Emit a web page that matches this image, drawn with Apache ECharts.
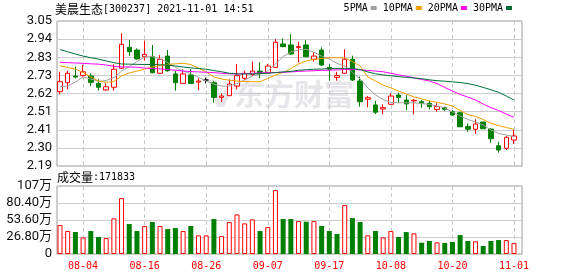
<!DOCTYPE html>
<html>
<head>
<meta charset="utf-8">
<script src="https://cdn.jsdelivr.net/npm/echarts@6/dist/echarts.min.js"></script>
<style>
html, body { margin: 0; padding: 0; background: #fff; }
#main { width: 578px; height: 276px; }
</style>
</head>
<body>
<div id="main"></div>
<script>
// trading days shown
var dates = ['07-30',
  '08-02', '08-03', '08-04', '08-05', '08-06', '08-09', '08-10', '08-11', '08-12', '08-13',
  '08-16', '08-17', '08-18', '08-19', '08-20', '08-23', '08-24', '08-25', '08-26', '08-27',
  '08-30', '08-31', '09-01', '09-02', '09-03', '09-06', '09-07', '09-08', '09-09', '09-10',
  '09-13', '09-14', '09-15', '09-16', '09-17', '09-22', '09-23', '09-24', '09-27', '09-28',
  '09-29', '09-30', '10-08', '10-11', '10-12', '10-13', '10-14', '10-15', '10-18', '10-19',
  '10-20', '10-21', '10-22', '10-25', '10-26', '10-27', '10-28', '10-29', '11-01'];

var opens  = [2.631, 2.684, 2.724, 2.726, 2.724, 2.680, 2.641, 2.657, 2.770, 2.894,
              2.878, 2.838, 2.838, 2.740, 2.842, 2.736, 2.680, 2.730, 2.688, 2.700,
              2.684, 2.597, 2.607, 2.664, 2.710, 2.734, 2.753, 2.743, 2.775, 2.914,
              2.908, 2.892, 2.908, 2.823, 2.878, 2.775, 2.716, 2.740, 2.823, 2.694,
              2.586, 2.552, 2.528, 2.556, 2.611, 2.581, 2.576, 2.571, 2.562, 2.526,
              2.536, 2.512, 2.506, 2.425, 2.408, 2.451, 2.409, 2.310, 2.295, 2.344];
var closes = [2.690, 2.740, 2.718, 2.749, 2.686, 2.657, 2.660, 2.764, 2.912, 2.868,
              2.825, 2.852, 2.743, 2.823, 2.755, 2.684, 2.736, 2.680, 2.694, 2.700,
              2.597, 2.605, 2.676, 2.726, 2.740, 2.753, 2.740, 2.783, 2.924, 2.898,
              2.854, 2.898, 2.838, 2.842, 2.789, 2.764, 2.726, 2.823, 2.700, 2.571,
              2.595, 2.509, 2.536, 2.605, 2.597, 2.558, 2.580, 2.562, 2.542, 2.543,
              2.526, 2.492, 2.423, 2.408, 2.439, 2.411, 2.352, 2.285, 2.360, 2.368];
var lows   = [2.615, 2.645, 2.710, 2.720, 2.664, 2.637, 2.637, 2.637, 2.765, 2.844,
              2.819, 2.815, 2.740, 2.736, 2.749, 2.637, 2.676, 2.676, 2.641, 2.680,
              2.565, 2.570, 2.605, 2.645, 2.700, 2.724, 2.710, 2.740, 2.770, 2.894,
              2.848, 2.803, 2.835, 2.809, 2.783, 2.696, 2.696, 2.736, 2.694, 2.542,
              2.538, 2.498, 2.497, 2.552, 2.565, 2.522, 2.497, 2.536, 2.526, 2.512,
              2.516, 2.487, 2.420, 2.393, 2.380, 2.411, 2.328, 2.269, 2.285, 2.321];
var highs  = [2.749, 2.755, 2.779, 2.789, 2.740, 2.704, 2.680, 2.793, 2.977, 2.937,
              2.888, 2.933, 2.908, 2.848, 2.878, 2.753, 2.764, 2.764, 2.710, 2.714,
              2.694, 2.621, 2.704, 2.795, 2.755, 2.809, 2.805, 2.795, 2.943, 2.947,
              2.971, 2.927, 2.937, 2.864, 2.894, 2.793, 2.749, 2.882, 2.844, 2.720,
              2.605, 2.577, 2.556, 2.621, 2.625, 2.611, 2.586, 2.581, 2.577, 2.562,
              2.542, 2.522, 2.512, 2.443, 2.467, 2.451, 2.414, 2.334, 2.368, 2.404];

// moving averages
var ma5  = [2.660, 2.664, 2.688, 2.718, 2.706, 2.692, 2.697, 2.715, 2.753, 2.780,
            2.809, 2.836, 2.839, 2.825, 2.804, 2.774, 2.753, 2.738, 2.715, 2.694,
            2.676, 2.664, 2.664, 2.679, 2.700, 2.724, 2.736, 2.753, 2.795, 2.839,
            2.866, 2.878, 2.882, 2.865, 2.842, 2.825, 2.798, 2.783, 2.745, 2.706,
            2.653, 2.611, 2.584, 2.567, 2.565, 2.565, 2.565, 2.561, 2.555, 2.546,
            2.534, 2.510, 2.487, 2.466, 2.451, 2.433, 2.404, 2.383, 2.374, 2.364];
var ma10 = [2.785, 2.774, 2.765, 2.745, 2.718, 2.694, 2.686, 2.691, 2.724, 2.742,
            2.753, 2.765, 2.777, 2.786, 2.793, 2.796, 2.799, 2.792, 2.771, 2.748,
            2.718, 2.706, 2.699, 2.694, 2.691, 2.690, 2.690, 2.709, 2.730, 2.745,
            2.768, 2.795, 2.813, 2.823, 2.827, 2.832, 2.832, 2.831, 2.810, 2.783,
            2.718, 2.694, 2.670, 2.653, 2.634, 2.617, 2.600, 2.588, 2.576, 2.567,
            2.558, 2.546, 2.519, 2.495, 2.484, 2.466, 2.443, 2.430, 2.418, 2.408];
var ma20 = [2.805, 2.803, 2.801, 2.799, 2.796, 2.794, 2.789, 2.781, 2.778, 2.777,
            2.776, 2.771, 2.768, 2.766, 2.762, 2.758, 2.753, 2.750, 2.748, 2.746,
            2.744, 2.740, 2.737, 2.736, 2.738, 2.740, 2.742, 2.743, 2.744, 2.746,
            2.748, 2.751, 2.753, 2.755, 2.757, 2.758, 2.760, 2.762, 2.763, 2.760,
            2.757, 2.753, 2.749, 2.740, 2.731, 2.722, 2.713, 2.703, 2.694, 2.679,
            2.656, 2.635, 2.614, 2.599, 2.581, 2.558, 2.536, 2.519, 2.498, 2.479];
var ma30 = [2.881, 2.867, 2.854, 2.842, 2.832, 2.824, 2.813, 2.803, 2.795, 2.794,
            2.793, 2.792, 2.792, 2.790, 2.789, 2.783, 2.777, 2.772, 2.768, 2.764,
            2.756, 2.749, 2.740, 2.736, 2.736, 2.736, 2.738, 2.740, 2.744, 2.748,
            2.751, 2.758, 2.761, 2.764, 2.765, 2.768, 2.769, 2.769, 2.768, 2.762,
            2.748, 2.737, 2.730, 2.725, 2.720, 2.716, 2.712, 2.708, 2.701, 2.696,
            2.693, 2.689, 2.685, 2.679, 2.669, 2.656, 2.642, 2.627, 2.605, 2.581];

// volume, in 万
var volumes = [45.6, 36.2, 34.6, 26.2, 36.2, 26.8, 25.2, 56.2, 88.1, 47.2,
               36.2, 44.1, 50.4, 44.1, 39.3, 40.9, 36.2, 44.1, 29.4, 29.4,
               55.1, 28.3, 50.4, 62.4, 48.3, 54.6, 36.2, 42.5, 100.7, 55.1,
               55.1, 51.9, 50.9, 51.9, 44.1, 36.2, 31.5, 77.1, 56.6, 50.4,
               29.4, 36.2, 26.2, 36.2, 26.8, 34.6, 32.5, 17.8, 20.5, 18.4,
               17.3, 18.9, 29.9, 20.5, 20.0, 12.6, 20.5, 22.0, 22.0, 17.1833];

var priceTickLabels = ['2.19', '2.30', '2.41', '2.51', '2.62', '2.73', '2.83', '2.94', '3.05'];
var volTickLabels = ['0', '26.80万', '53.60万', '80.40万', '107万'];
var xTickLabels = ['08-04', '08-16', '08-26', '09-07', '09-17', '10-08', '10-20', '11-01'];
var legendNames = ['5PMA', '10PMA', '20PMA', '30PMA'];

var priceMin = 2.19, priceMax = 3.05;
var volStep = 26.8;

var UP = '#ff0000', DOWN = '#008000';
var maColors = ['#a0a0a0', '#f0a000', '#ff00ff', '#006f35'];

var chart = echarts.init(document.getElementById('main'));

var priceTicks = priceTickLabels.map(function (s, k) {
  var v = priceMin + (priceMax - priceMin) * k / (priceTickLabels.length - 1);
  return Math.min(Math.max(v, priceMin), priceMax);
});
var xTicks = xTickLabels.map(function (d) { return dates.indexOf(d); });

var candleData = dates.map(function (d, i) {
  return [i, opens[i], closes[i], lows[i], highs[i]];
});

var volData = volumes.map(function (v, i) {
  var up = i === 0 ? closes[i] >= opens[i] : closes[i] >= closes[i - 1];
  return {
    value: [i, v],
    itemStyle: up
      ? { color: '#ffffff', borderColor: UP, borderWidth: 1 }
      : { color: DOWN, borderColor: DOWN, borderWidth: 0 }
  };
});

function maSeries(name, arr, color) {
  return {
    name: name,
    type: 'line',
    xAxisIndex: 0,
    yAxisIndex: 0,
    data: arr.map(function (v, i) { return [i, v]; }),
    showSymbol: false,
    symbol: 'none',
    silent: true,
    z: 3,
    lineStyle: { width: 1, color: color },
    itemStyle: { color: color }
  };
}

var monoFont = '"DejaVu Sans Mono", "Noto Sans CJK SC", monospace';
var axisFont = 'Roboto, "Noto Sans CJK SC", sans-serif';

function xAxisCfg(gridIndex, withLabels) {
  return {
    type: 'value',
    gridIndex: gridIndex,
    min: -0.39,
    max: 60.04,
    axisLine: { show: false },
    axisTick: { show: false, customValues: xTicks },
    axisLabel: {
      show: withLabels,
      customValues: xTicks,
      color: '#ff0000',
      fontSize: 10,
      fontFamily: monoFont,
      margin: 7,
      formatter: function (v) { return dates[Math.round(v)]; }
    },
    splitLine: { show: true, lineStyle: { color: '#c8c8c8', type: [4, 3], width: 1 } }
  };
}

var option = {
  animation: false,
  backgroundColor: '#ffffff',
  legend: {
    data: legendNames,
    right: 66,
    top: 3,
    align: 'right',
    icon: 'rect',
    itemWidth: 6,
    itemHeight: 4,
    itemGap: 6,
    padding: 0,
    textStyle: { fontSize: 10, fontFamily: monoFont, color: '#000', padding: [0, -2, 0, 0] }
  },
  grid: [
    { left: 57, top: 21, width: 465, height: 145, show: true, borderColor: '#9a9a9a', borderWidth: 1 },
    { left: 57, top: 186, width: 465, height: 68, show: true, borderColor: '#9a9a9a', borderWidth: 1 }
  ],
  xAxis: [xAxisCfg(0, false), xAxisCfg(1, true)],
  yAxis: [
    {
      type: 'value',
      gridIndex: 0,
      min: priceMin,
      max: priceMax,
      axisLine: { show: false },
      axisTick: { show: false, customValues: priceTicks },
      axisLabel: {
        customValues: priceTicks,
        color: '#111',
        fontSize: 13,
        fontFamily: axisFont,
        margin: 5,
        formatter: function (v) {
          var k = Math.round((v - priceMin) / (priceMax - priceMin) * (priceTickLabels.length - 1));
          return priceTickLabels[k];
        }
      },
      splitLine: { show: true, lineStyle: { color: '#cccccc', width: 1 } }
    },
    {
      type: 'value',
      gridIndex: 1,
      min: 0,
      max: volStep * 4,
      interval: volStep,
      axisLine: { show: false },
      axisTick: { show: false },
      axisLabel: {
        color: '#111',
        fontSize: 13,
        fontFamily: axisFont,
        margin: 5,
        formatter: function (v) { return volTickLabels[Math.round(v / volStep)]; }
      },
      splitLine: { show: true, lineStyle: { color: '#cccccc', width: 1 } }
    }
  ],
  graphic: [
    {
      type: 'polygon',
      z: -1,
      shape: { points: [[208, 80], [216, 80], [221, 97], [226, 88], [233, 88], [224, 107], [217, 107]] },
      style: { fill: '#e6e6ea' }
    },
    {
      type: 'text',
      z: -1,
      x: 234,
      y: 94,
      style: {
        text: '东方财富',
        fill: '#e6e6ea',
        font: 'bold 30px "Noto Sans CJK SC"',
        verticalAlign: 'middle'
      }
    },
    {
      type: 'text',
      x: 55,
      y: 9,
      style: {
        text: '{a|美晨生态}{b|[300237] 2021-11-01 14:51}',
        verticalAlign: 'middle',
        rich: {
          a: { fill: '#000', fontSize: 12, fontFamily: '"Noto Sans CJK SC"' },
          b: { fill: '#000', fontSize: 10, fontFamily: '"DejaVu Sans Mono"' }
        }
      }
    },
    {
      type: 'text',
      x: 57,
      y: 177,
      style: {
        text: '{a|成交量}{b|:' + Math.round(volumes[volumes.length - 1] * 10000) + '}',
        verticalAlign: 'middle',
        rich: {
          a: { fill: '#000', fontSize: 12, fontFamily: '"Noto Sans CJK SC"' },
          b: { fill: '#000', fontSize: 10, fontFamily: '"DejaVu Sans Mono"' }
        }
      }
    }
  ],
  series: [
    {
      name: 'K',
      type: 'candlestick',
      xAxisIndex: 0,
      yAxisIndex: 0,
      data: candleData,
      encode: { x: 0, y: [1, 2, 3, 4] },
      barWidth: 5,
      z: 2,
      itemStyle: {
        color: '#ffffff',
        color0: DOWN,
        borderColor: UP,
        borderColor0: DOWN,
        borderColorDoji: '#000000',
        borderWidth: 1
      }
    },
    maSeries(legendNames[0], ma5, maColors[0]),
    maSeries(legendNames[1], ma10, maColors[1]),
    maSeries(legendNames[2], ma20, maColors[2]),
    maSeries(legendNames[3], ma30, maColors[3]),
    {
      name: 'VOL',
      type: 'bar',
      xAxisIndex: 1,
      yAxisIndex: 1,
      barWidth: 5,
      data: volData
    }
  ]
};

chart.setOption(option);
</script>
</body>
</html>
